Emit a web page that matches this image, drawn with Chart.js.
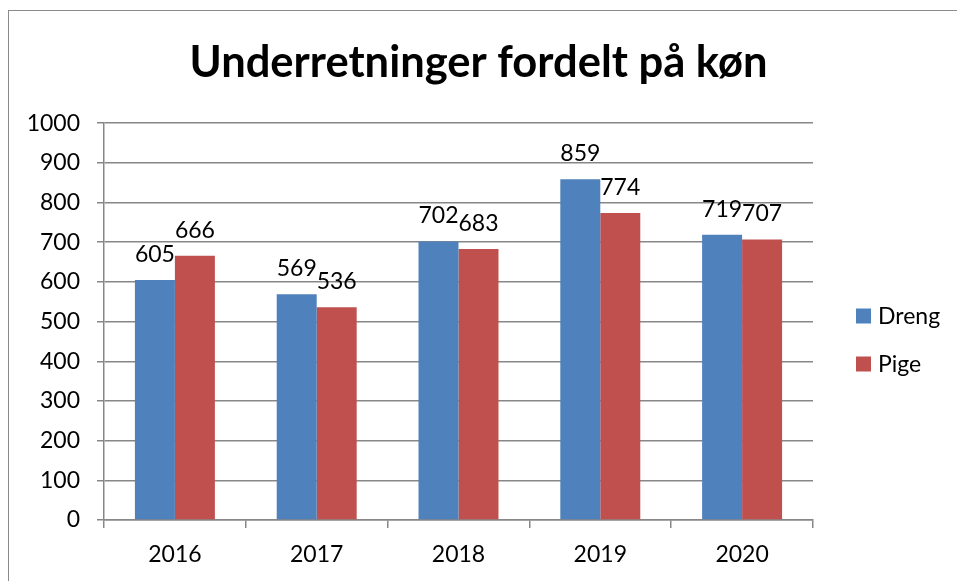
<!DOCTYPE html>
<html>
<head>
<meta charset="utf-8">
<script src="https://cdn.jsdelivr.net/npm/chart.js@4"></script>
<style>
  html, body { margin: 0; padding: 0; background: #fff; }
  #wrap { position: relative; width: 957px; height: 581px; overflow: hidden; }
  #frame {
    position: absolute; left: 8px; top: 10px; width: 1000px; height: 600px;
    border-top: 1.5px solid #8a8a8a; border-left: 1.5px solid #8a8a8a;
  }
  #chart { position: absolute; left: 0; top: 0; }
</style>
</head>
<body>
<div id="wrap">
  <div id="frame"></div>
  <canvas id="chart" width="957" height="581"></canvas>
</div>
<script>
const years = ['2016', '2017', '2018', '2019', '2020'];
const drengValues = [605, 569, 702, 859, 719];
const pigeValues = [666, 536, 683, 774, 707];
const seriesNames = ['Dreng', 'Pige'];
const seriesColors = ['#4f81bd', '#c0504d'];
const chartTitle = 'Underretninger fordelt på køn';

const fontFamily = 'Lato, "Open Sans", sans-serif';
const gridColor = '#878787';

// value labels above each bar
const barLabels = {
  id: 'barLabels',
  afterDatasetsDraw(chart) {
    const ctx = chart.ctx;
    ctx.save();
    ctx.font = '23px ' + fontFamily;
    ctx.fillStyle = '#000';
    ctx.textAlign = 'center';
    ctx.textBaseline = 'alphabetic';
    chart.data.datasets.forEach((ds, i) => {
      chart.getDatasetMeta(i).data.forEach((bar, j) => {
        ctx.fillText(String(ds.data[j]), bar.x, bar.y - 18);
      });
    });
    ctx.restore();
  }
};

// legend on the right, drawn like the office one
const sideLegend = {
  id: 'sideLegend',
  afterDraw(chart) {
    const ctx = chart.ctx;
    const x = chart.chartArea.right + 43;
    const ys = [316, 364];
    ctx.save();
    ctx.font = '23px ' + fontFamily;
    ctx.textBaseline = 'middle';
    chart.data.datasets.forEach((ds, i) => {
      ctx.fillStyle = ds.backgroundColor;
      ctx.fillRect(x, ys[i] - 7.5, 15, 15);
      ctx.fillStyle = '#000';
      ctx.fillText(ds.label, x + 22, ys[i] + 1);
    });
    ctx.restore();
  }
};

new Chart(document.getElementById('chart'), {
  type: 'bar',
  data: {
    labels: years,
    datasets: [
      { label: seriesNames[0], data: drengValues, backgroundColor: seriesColors[0] },
      { label: seriesNames[1], data: pigeValues, backgroundColor: seriesColors[1] }
    ]
  },
  options: {
    responsive: false,
    devicePixelRatio: 1,
    animation: false,
    layout: { padding: 0 },
    datasets: {
      bar: { categoryPercentage: 0.564, barPercentage: 1.0 }
    },
    plugins: {
      legend: { display: false },
      tooltip: { enabled: false },
      title: {
        display: true,
        text: chartTitle,
        color: '#000',
        font: { family: fontFamily, size: 43.5, weight: 'bold' },
        padding: { top: 37, bottom: 34 }
      }
    },
    scales: {
      x: {
        grid: {
          offset: true,
          drawOnChartArea: false,
          drawTicks: true,
          tickLength: 8,
          color: gridColor,
          lineWidth: 1.5
        },
        border: { display: true, color: gridColor, width: 1.5 },
        ticks: { color: '#000', font: { family: fontFamily, size: 23 }, padding: 13 },
        afterFit(scale) { scale.height = 61; }
      },
      y: {
        min: 0,
        max: 1000,
        ticks: {
          stepSize: 100,
          color: '#000',
          font: { family: fontFamily, size: 23 },
          padding: 17,
          callback: v => String(v)
        },
        grid: { color: gridColor, lineWidth: 1.5, tickLength: 7, drawTicks: true },
        border: { display: true, color: gridColor, width: 1.5 },
        afterFit(scale) { scale.width = 104; }
      },
      // empty right-hand scale that holds the room for the legend
      side: {
        position: 'right',
        min: 0,
        max: 1000,
        ticks: { display: false },
        grid: { display: false, drawTicks: false },
        border: { display: false },
        afterFit(scale) { scale.width = 144; }
      }
    }
  },
  plugins: [barLabels, sideLegend]
});
</script>
</body>
</html>
